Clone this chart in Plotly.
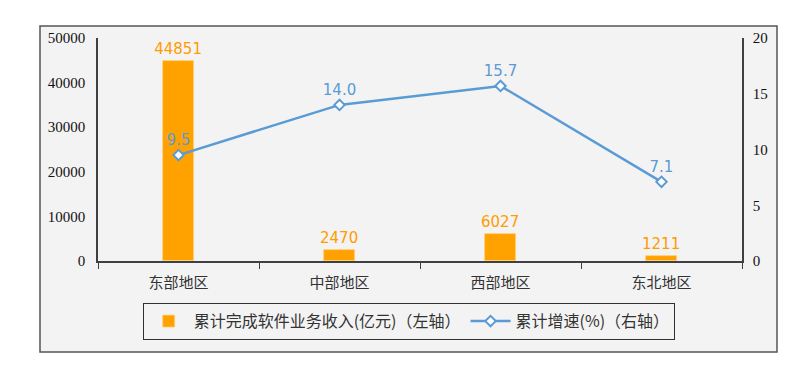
import plotly.graph_objects as go

categories = ["东部地区", "中部地区", "西部地区", "东北地区"]
revenue = [44851, 2470, 6027, 1211]
growth = [9.5, 14.0, 15.7, 7.1]
revenue_labels = ["44851", "2470", "6027", "1211"]
growth_labels = ["9.5", "14.0", "15.7", "7.1"]
left_ticks = [0, 10000, 20000, 30000, 40000, 50000]
right_ticks = [0, 5, 10, 15, 20]

# page body has an 8px margin; work in screen pixels and compensate
OFF = 8
W, H = 800 - OFF, 373 - OFF
PL, PR, PT, PB = 98, 742, 38, 261  # plot area in screen pixels
L, R, T, B = PL - OFF, W - (PR - OFF), PT - OFF, H - (PB - OFF)
pw, ph = PR - PL, PB - PT

def px_x(x):
    return (x - PL) / pw

def px_y(y):
    return (PB - y) / ph

SERIF = "Liberation Serif"

fig = go.Figure()
fig.add_trace(go.Bar(
    x=categories, y=revenue, name="累计完成软件业务收入(亿元)（左轴）",
    marker=dict(color="#ffa200", line=dict(color="#ffd27a", width=0.8)),
    width=0.19,
    text=revenue_labels, textposition="outside", constraintext="none",
    textfont=dict(family="DejaVu Sans", size=15, color="#ff9c00"),
    cliponaxis=False,
))
fig.add_trace(go.Scatter(
    x=categories, y=growth, name="累计增速(%)（右轴）", yaxis="y2",
    mode="lines+markers+text",
    line=dict(color="#5b9bd5", width=2.5),
    marker=dict(symbol="diamond", size=8, color="white", line=dict(color="#5b9bd5", width=2)),
    text=growth_labels, textposition="top center",
    textfont=dict(family="DejaVu Sans", size=15, color="#5b9bd5"),
    cliponaxis=False,
))

fig.update_layout(
    width=W, height=H,
    margin=dict(l=L, r=R, t=T, b=B, autoexpand=False),
    paper_bgcolor="white",
    plot_bgcolor="rgba(0,0,0,0)",
    bargap=0,
    showlegend=True,
    xaxis=dict(
        type="category", showgrid=False, showline=True, linecolor="#404040", linewidth=1.5,
        ticks="outside", tickson="boundaries", ticklen=6, tickcolor="#404040", tickwidth=1,
        tickfont=dict(family="Noto Sans CJK SC", size=15, color="#333"),
        ticklabelstandoff=7,
        zeroline=False, automargin=False,
    ),
    yaxis=dict(
        range=[0, 50000], tickvals=left_ticks, ticktext=[str(v) for v in left_ticks],
        showgrid=False, showline=True, linecolor="#404040", linewidth=1.5, zeroline=False,
        ticks="", tickfont=dict(family=SERIF, size=15, color="#111"),
        ticklabelstandoff=8, automargin=False,
    ),
    yaxis2=dict(
        range=[0, 20], tickvals=right_ticks, overlaying="y", side="right",
        showgrid=False, showline=True, linecolor="#404040", linewidth=1.5, zeroline=False,
        ticks="", tickfont=dict(family=SERIF, size=15, color="#111"),
        ticklabelstandoff=6, automargin=False,
    ),
    legend=dict(
        orientation="h", x=px_x(409), xanchor="center", y=px_y(303), yanchor="top",
        bordercolor="#303030", borderwidth=1.2, bgcolor="rgba(0,0,0,0)",
        font=dict(family="Noto Sans CJK SC", size=16, color="#333"),
        itemwidth=40,
    ),
    shapes=[dict(
        type="rect", xref="paper", yref="paper",
        x0=px_x(40), x1=px_x(777), y0=px_y(352), y1=px_y(26),
        fillcolor="#f3f3f3", line=dict(color="#555", width=1.5), layer="below",
    )],
)

fig.write_html("out.html")
